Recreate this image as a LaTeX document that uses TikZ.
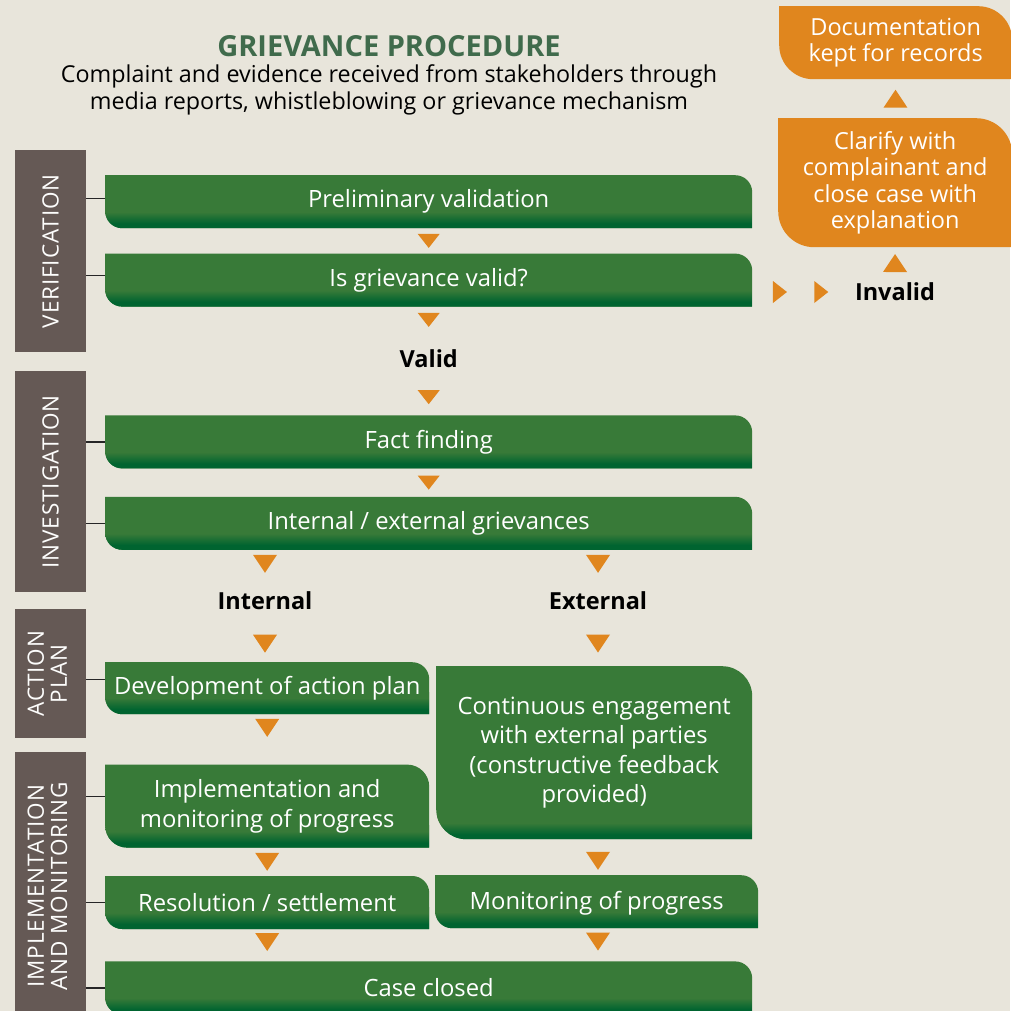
\documentclass[tikz,border=0pt]{standalone}
\usepackage{fontspec}
\setmainfont{Open Sans}
\newfontfamily\boxfont{Open Sans}
\newfontfamily\barfont{Open Sans}[LetterSpace=4]
\usetikzlibrary{positioning,calc,decorations.markings}

\definecolor{paper}{HTML}{E8E5DB}
\definecolor{leafgreen}{RGB}{56,122,56}
\definecolor{deepgreen}{RGB}{0,100,48}
\definecolor{rust}{HTML}{E0861E}
\definecolor{bark}{HTML}{655955}
\definecolor{titlegreen}{HTML}{406B4C}

\pgfdeclareverticalshading{greenfade}{100bp}{color(0bp)=(deepgreen); color(25bp)=(deepgreen); color(36bp)=(deepgreen); color(62bp)=(leafgreen); color(100bp)=(leafgreen)}

% square top-left, rounded top-right and bottom-left
\newcommand{\leafpath}[1]{(path picture bounding box.north west) -- ([xshift=-#1]path picture bounding box.north east) arc[start angle=90,end angle=0,radius=#1] -- (path picture bounding box.south east) -- ([xshift=#1]path picture bounding box.south west) arc[start angle=270,end angle=180,radius=#1] -- cycle}

\tikzset{
  gbox/.style={anchor=north west, inner sep=4pt, text=white, align=center,
    font=\boxfont\fontsize{23.8}{29.5}\selectfont,
    path picture={
      \fill[leafgreen] \leafpath{#1};
      \begin{scope}
        \clip \leafpath{#1};
        \shade[shading=greenfade] (path picture bounding box.south west) rectangle ([yshift=22pt]path picture bounding box.south east);
      \end{scope}}},
  gbox/.default=17pt,
  obox/.style={anchor=north west, inner sep=4pt, text=white, align=center,
    font=\boxfont\fontsize{23.5}{26.5}\selectfont,
    path picture={\fill[rust] \leafpath{#1};}},
  obox/.default=34pt,
  bar/.style={anchor=north west, fill=bark, minimum width=71pt, inner sep=0pt, text=white!92!paper, font=\barfont\fontsize{22.5}{23}\selectfont},
  lbl/.style={font=\bfseries\fontsize{23.5}{28}\selectfont, minimum height=40pt, inner sep=4pt},
  tick/.style={draw=black!85, line width=1.2pt},
  flow/.style={postaction={decorate, decoration={markings, mark=at position #1 with {\fill[rust] (-9,12) -- (9,0) -- (-9,-12) -- cycle;}}}},
  flow/.default=0.5,
  sflow/.style={postaction={decorate, decoration={markings, mark=at position #1 with {\fill[rust] (-7,11) -- (7,0) -- (-7,-11) -- cycle;}}}},
  sflow/.default=0.5
}

\begin{document}
\begin{tikzpicture}[x=1pt, y=1pt]

\useasboundingbox (0,0) rectangle (1010,-1011);
\fill[paper] (0,0) rectangle (1010,-1011);

% Heading
\node[font=\bfseries\fontsize{29}{34}\selectfont, text=titlegreen] (title) at (389,-46) {GRIEVANCE PROCEDURE};
\node[font=\fontsize{23.3}{27}\selectfont, align=center] (intro) at (389,-89.5) {Complaint and evidence received from stakeholders through\\media reports, whistleblowing or grievance mechanism};

% Stage bars
\node[bar, minimum height=202pt] (verif) at (15,-150) {\rotatebox{90}{VERIFICATION}};
\node[bar, minimum height=221pt] (invest) at (15,-371) {\rotatebox{90}{INVESTIGATION}};
\node[bar, minimum height=129pt] (actplan) at (15,-609) {\rotatebox{90}{\begin{tabular}{@{}c@{}}ACTION\\PLAN\end{tabular}}};
\node[bar, minimum height=268pt] (implmon) at (15,-752) {\rotatebox{90}{\begin{tabular}{@{}c@{}}IMPLEMENTATION\\AND MONITORING\end{tabular}}};

% Steps
\node[gbox, minimum width=647pt, minimum height=53pt] (prelim) at (105,-175) {Preliminary validation};
\node[gbox, minimum width=647pt, minimum height=53pt, below=25pt of prelim] (isvalid) {Is grievance valid?};
\node[lbl, below=32pt of isvalid] (valid) {Valid};
\node[gbox, minimum width=647pt, minimum height=53pt, below=36pt of valid] (fact) {Fact finding};
\node[gbox, minimum width=647pt, minimum height=53pt, below=28pt of fact] (intext) {Internal / external grievances};
\node[lbl] (internal) at (265,-601) {Internal};
\node[lbl] (external) at (598,-601) {External};
\node[gbox, minimum width=324pt, minimum height=52pt] (devplan) at (105,-662) {Development of action plan};
\node[gbox=22pt, minimum width=324pt, minimum height=83pt, below=50pt of devplan] (implprog) {Implementation and\\monitoring of progress};
\node[gbox, minimum width=324pt, minimum height=53pt, below=28pt of implprog] (resolve) {Resolution / settlement};
\node[gbox, minimum width=647pt, minimum height=53pt, below=32pt of resolve.south west, anchor=north west] (closed) {Case closed};
\node[gbox=30pt, minimum width=316pt, minimum height=173pt] (engage) at (436,-666) {Continuous engagement\\with external parties\\\normalfont(constructive feedback\\\normalfont provided)};
\node[gbox, minimum width=323pt, minimum height=53pt, text depth=3pt] (monitor) at (435,-875) {Monitoring of progress};

% Invalid branch
\node[lbl] (invalid) at (895,-292) {Invalid};
\node[obox=36pt, minimum width=234pt, minimum height=129pt] (clarify) at (778,-118) {Clarify with\\complainant and\\close case with\\explanation};
\node[obox, minimum width=233pt, minimum height=73pt] (docs) at (779,-6) {Documentation\\kept for records};

% Bar ticks
\draw[tick] ([yshift=3.5pt]prelim.west) -- ([yshift=3.5pt]prelim.west -| verif.east);
\draw[tick] ([yshift=4.5pt]isvalid.west) -- ([yshift=4.5pt]isvalid.west -| verif.east);
\draw[tick] (fact.west) -- (fact.west -| invest.east);
\draw[tick] (intext.west) -- (intext.west -| invest.east);
\draw[tick] ([yshift=9pt]devplan.west) -- ([yshift=9pt]devplan.west -| actplan.east);
\draw[tick] ([yshift=9.5pt]implprog.west) -- ([yshift=9.5pt]implprog.west -| implmon.east);
\draw[tick] (resolve.west) -- (resolve.west -| implmon.east);
\draw[tick] (closed.west) -- (closed.west -| implmon.east);

% Flow marks
\path[sflow] (prelim) -- (isvalid);
\path[sflow=0.41] (isvalid) -- (valid);
\path[sflow] (valid) -- (fact);
\path[sflow] (fact) -- (intext);
\path[flow=0.45] (intext.south -| internal) -- (internal);
\path[flow=0.45] (intext.south -| external) -- (external);
\path[flow=0.55] (internal) -- (internal |- devplan.north);
\path[flow] (external) -- (external |- engage.north);
\path[flow=0.27] (devplan) -- (implprog);
\path[flow] (implprog) -- (resolve);
\path[flow=0.4] (resolve) -- (resolve |- closed.north);
\path[flow=0.6] (engage.south -| external) -- (monitor.north -| external);
\path[flow=0.4] (monitor.south -| external) -- (closed.north -| external);
\path[sflow=0.28, sflow=0.7] (isvalid.east |- invalid) -- (invalid);
\path[flow=0.36] (invalid) -- (clarify);
\path[flow] (clarify) -- (docs);

\end{tikzpicture}
\end{document}
